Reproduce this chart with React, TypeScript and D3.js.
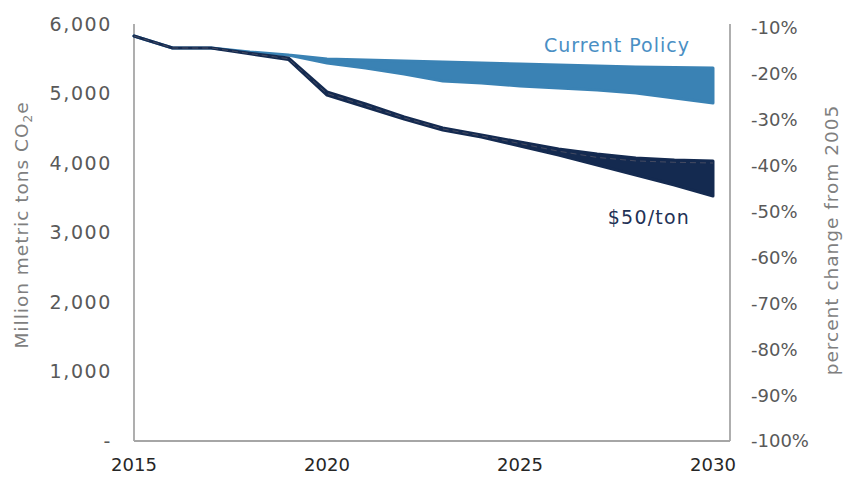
import React from "react";
import * as d3 from "d3";

const years = [2015, 2016, 2017, 2018, 2019, 2020, 2021, 2022, 2023, 2024, 2025, 2026, 2027, 2028, 2029, 2030];
const currentPolicyHigh = [5827, 5655, 5655, 5597, 5554, 5496, 5482, 5468, 5453, 5439, 5424, 5410, 5396, 5381, 5374, 5367];
const currentPolicyLow = [5827, 5655, 5655, 5597, 5554, 5439, 5367, 5281, 5180, 5151, 5108, 5079, 5050, 5007, 4935, 4863];
const tax50High = [5827, 5655, 5655, 5580, 5511, 5022, 4849, 4662, 4504, 4403, 4302, 4201, 4129, 4072, 4043, 4029];
const tax50Low = [5827, 5655, 5655, 5570, 5490, 4978, 4806, 4633, 4475, 4374, 4245, 4115, 3971, 3827, 3683, 3525];
const tax50Mid = [5827, 5655, 5655, 5575, 5500, 5000, 4828, 4648, 4490, 4390, 4280, 4170, 4080, 4030, 4010, 4000];
const leftTicks = [0, 1000, 2000, 3000, 4000, 5000, 6000];
const rightTicks = [-1, -0.9, -0.8, -0.7, -0.6, -0.5, -0.4, -0.3, -0.2, -0.1];
const xTicks = [2015, 2020, 2025, 2030];

const FONT = "'DejaVu Sans', sans-serif";

export default function App() {
  const W = 843, H = 477;
  const x = d3.scaleLinear().domain([2015, 2030]).range([134, 713]);
  const y = d3.scaleLinear().domain([0, 6000]).range([441, 24]);
  const yR = d3.scaleLinear().domain([-1, -0.1]).range([441, 28]);
  const axisRight = 730;

  const band = (hi: number[], lo: number[]) =>
    d3.area<number>()
      .x((_, i) => x(years[i]))
      .y0((_, i) => y(lo[i]))
      .y1((_, i) => y(hi[i]))(years as any) as string;

  const line = (vals: number[]) =>
    d3.line<number>().x((_, i) => x(years[i])).y((_, i) => y(vals[i]))(years as any) as string;

  const cpColor = "#3a82b4";
  const navy = "#142a50";
  const tickColor = "#595959";
  const axisColor = "#a6a6a6";
  const fmt = d3.format(",");

  return (
    <svg width={W} height={H} style={{ position: "absolute", left: 0, top: 0, background: "#fff" }}>
      {/* axes */}
      <line x1={134} y1={24} x2={134} y2={441} stroke={axisColor} strokeWidth={1.8} />
      <line x1={134} y1={441} x2={axisRight} y2={441} stroke={axisColor} strokeWidth={1.8} />
      <line x1={axisRight} y1={24} x2={axisRight} y2={441} stroke={axisColor} strokeWidth={1.8} />

      {/* current policy */}
      <path d={band(currentPolicyHigh, currentPolicyLow)} fill={cpColor} stroke={cpColor} strokeWidth={3} strokeLinejoin="round" />
      {/* $50/ton */}
      <path d={band(tax50High, tax50Low)} fill={navy} stroke={navy} strokeWidth={3} strokeLinejoin="round" />
      <path d={line(tax50Mid)} fill="none" stroke="#6b6470" strokeWidth={0.8} strokeDasharray="6,4" opacity={0.7} />

      {/* left ticks */}
      {leftTicks.map((t) => (
        <text key={t} x={112} y={y(t)} dy="0.36em" textAnchor="end" fontFamily={FONT} fontSize={19} letterSpacing={1.6} fill={tickColor}>
          {t === 0 ? "-" : fmt(t)}
        </text>
      ))}
      {/* right ticks */}
      {rightTicks.map((t) => (
        <text key={t} x={751} y={yR(t)} dy="0.36em" textAnchor="start" fontFamily={FONT} fontSize={18} fill={tickColor}>
          {Math.round(t * 100) + "%"}
        </text>
      ))}
      {/* x ticks */}
      {xTicks.map((t) => (
        <text key={t} x={x(t)} y={471} textAnchor="middle" fontFamily={FONT} fontSize={18} fill="#262626">
          {t}
        </text>
      ))}

      {/* axis titles */}
      <text transform="translate(28,225) rotate(-90)" textAnchor="middle" fontFamily={FONT} fontSize={18.5} letterSpacing={1} fill="#7f7f7f">
        Million metric tons CO<tspan fontSize={12} dy="4">2</tspan><tspan dy="-4">e</tspan>
      </text>
      <text transform="translate(838,240) rotate(-90)" textAnchor="middle" fontFamily={FONT} fontSize={18.5} letterSpacing={1} fill="#7f7f7f">
        percent change from 2005
      </text>

      {/* labels */}
      <text x={690} y={52} textAnchor="end" fontFamily={FONT} fontSize={19} letterSpacing={1} fill="#4a8fc4">Current Policy</text>
      <text x={690} y={224} textAnchor="end" fontFamily={FONT} fontSize={19} letterSpacing={1.2} fill="#1f3256">$50/ton</text>
    </svg>
  );
}
